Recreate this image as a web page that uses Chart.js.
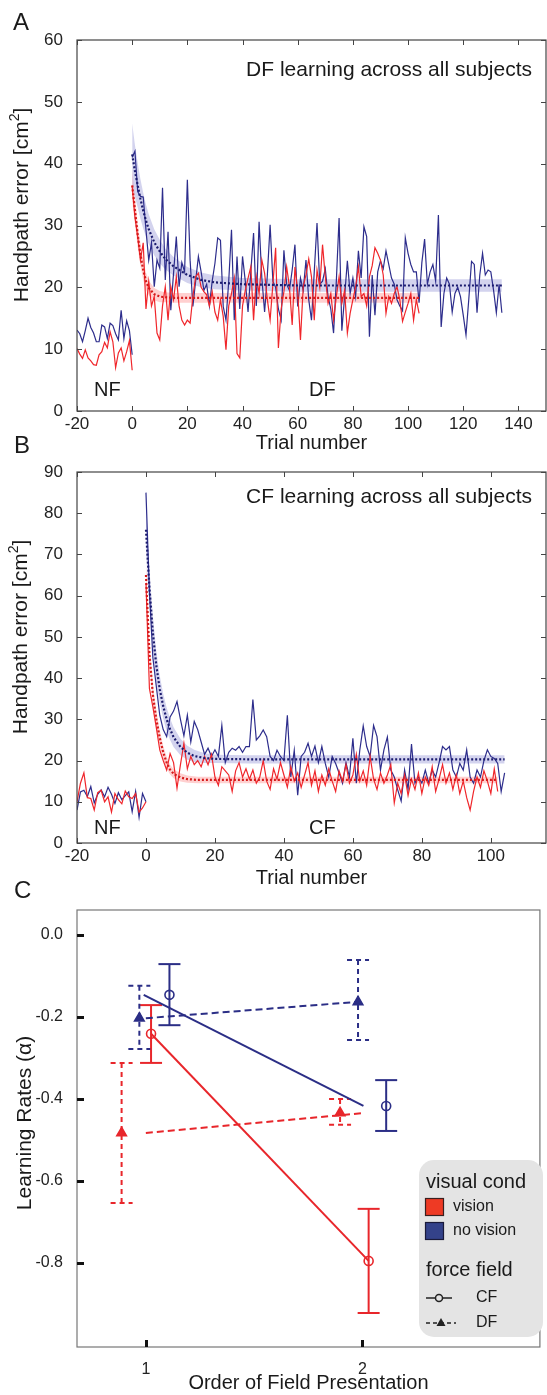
<!DOCTYPE html>
<html><head><meta charset="utf-8">
<script src="https://cdn.jsdelivr.net/npm/chart.js@4.4.1/dist/chart.umd.min.js"></script>
<style>
html,body{margin:0;padding:0;background:#fff;}
body{position:relative;width:547px;height:1395px;overflow:hidden;font-family:"Liberation Sans",Arial,sans-serif;color:#1a1a1a;}
canvas{position:absolute;left:0;}
.lbl{position:absolute;font-size:24px;line-height:24px;}
</style></head><body>
<canvas id="cA" width="547" height="455" style="top:0px"></canvas>
<canvas id="cB" width="547" height="435" style="top:455px"></canvas>
<canvas id="cC" width="547" height="505" style="top:890px"></canvas>
<div class="lbl" style="left:13px;top:10px">A</div>
<div class="lbl" style="left:14px;top:433px">B</div>
<div class="lbl" style="left:14px;top:878px">C</div>
<script>
// ---------------- DATA ----------------
const ticksAx = [-20,0,20,40,60,80,100,120,140];
const ticksAy = [0,10,20,30,40,50,60];
const ticksBx = [-20,0,20,40,60,80,100];
const ticksBy = [0,10,20,30,40,50,60,70,80,90];
const ticksCx = [1,2];
const ticksCy = [0,-0.2,-0.4,-0.6,-0.8];

const nfTrials = [-20,-19,-18,-17,-16,-15,-14,-13,-12,-11,-10,-9,-8,-7,-6,-5,-4,-3,-2,-1,0];

// Panel A (DF)
const blueNF_A = [13.1,12.5,11.2,13.0,15.0,13.5,12.6,11.2,11.2,13.9,13.6,11.7,14.2,13.8,12.5,11.5,16.3,11.7,14.6,13.0,9.1];
const redNF_A  = [10.1,9.2,8.5,9.9,8.6,8.1,7.5,7.4,9.1,9.6,11.1,10.2,12.8,11.2,7.0,9.4,10.2,8.1,9.6,11.4,6.6];
const blueDF_A = [41,42,35.5,34.7,34.6,29.3,24.4,27.2,20.1,24.4,
 23.1,36.1,21.2,29,16.3,22.3,28.2,20.1,24,22.5,
 37.4,24.4,16.9,21,25,22.5,19.5,20.5,17,21,
 23.9,28,27.6,16.9,14.7,21,29.3,14.7,25,16.5,
 25,21,16,22.5,28.8,17,30.6,21.5,16,22,
 30.1,21,20,16.5,14.7,26,20.5,19.5,22.8,26.9,
 16.9,21.5,19.5,24.4,18,14.7,22.5,30.4,20.5,21,
 23,18.5,16.5,12.6,21,31.2,13,18.5,24.3,19,
 21.5,18.5,25.9,21.5,29.8,28.2,12,22,15.5,22.5,
 24.3,23,25.9,23.7,21.5,20.5,18,17,16.2,28,
 25.5,23.7,22.5,22.5,17.5,24,27.8,20.5,22.5,23.7,
 21,31.7,13.6,19,21.5,20.5,16,19,20,18.5,
 15.5,12.3,18,24.2,23.7,15.9,22,25.5,22,22.8,
 22.5,19.5,15.9,20.5,15.9];
const redDF_A = [36.3,31.4,28.2,24.4,27.2,16.5,21,17,18.5,12.6,
 11.5,17,20.1,14.7,20.1,18,21.7,17,14.7,13.9,
 14.7,14.2,18.5,21.7,22.3,20,19.3,18.8,17,19.3,
 16,14.7,18,15.3,9.9,17,19,21.5,9.3,8.6,
 17,19.5,21.5,23.3,14.7,21.7,19,24.4,22.3,18,
 14.7,20.5,26.4,10.2,16.5,19.3,23.3,20.1,13.9,23.3,
 19.3,11.5,20.1,22,24.6,21.7,14.7,22.8,20,26.9,
 21.7,17.4,19,14.7,18.5,21.7,17.4,19.5,12.6,15.8,
 18,20.1,23.3,18.5,19,17,21.7,23.5,26.4,25.5,
 24.4,22,15.8,18.5,17.4,19,20.1,18,14.5,16,
 17.4,19,14.7,18,15.8];
const fitXA_blue = [0,1,2,3,4,5,6,8,10,12,15,20,25,30,40,60,90,134];
const fitA_blue  = [41.5,38.8,36.5,34.3,32.4,30.8,29.4,27.3,25.8,24.6,23.4,22,21.2,20.8,20.5,20.3,20.3,20.3];
const bandA_blue = [5,4.2,3.6,3.2,2.9,2.6,2.4,2.1,1.9,1.7,1.5,1.3,1.2,1.1,1,1,1,1];
const fitXA_red  = [0,1,2,3,4,5,6,8,10,12,15,20,40,70,104];
const fitA_red   = [36.5,32.5,28.5,25.3,22.8,21,19.9,18.9,18.5,18.4,18.3,18.3,18.3,18.3,18.3];
const bandA_red  = [2.5,2.2,2,1.8,1.6,1.4,1.2,1,0.9,0.8,0.8,0.8,0.8,0.8,0.8];

// Panel B (CF)
const blueNF_B = [8,12.4,12.8,11.3,13.7,9.7,11.8,12.9,11.2,13.5,11.8,9.6,12.2,10.5,11.5,12.4,7.6,12.5,6.2,12,10];
const redNF_B  = [10,14.5,17,11,10.8,8,12.2,12.8,10,11.2,7.5,12,10.5,9.5,12.6,11.2,10.8,12,7.5,8.5,10];
const blueCF_B = [85,61,45,38,31,27.5,25.8,30.6,32,34.3,
 30,26,31,24.5,29.5,27.5,24.5,21.5,23,21,
 22.6,21,28.5,19.5,22,23,22.5,23.4,22,23.4,
 23.4,34.8,25,26,27.4,25.8,21,20,22.5,21,
 20,31,16,22.5,11.6,21,22,24.2,21,23.5,
 19.5,23.4,19.3,16,21,19.3,17,14.5,19.5,16,
 25.4,14.5,22.5,28.4,23.4,21,28.5,25.8,17.7,22.6,
 25.7,17.7,16,12.9,10.2,17.7,13,24,14.5,16,
 14.5,17.7,14.5,17.7,16,19.5,23.4,22.6,23.4,17.7,
 16,19.3,17.7,22.6,16,14.5,17.7,16,20,22.6,
 21,20.5,19.3,12.5,17];
const redCF_B = [63,37.5,33,28,22.6,20,17.7,21.7,19.5,13.3,
 19,24.2,18,21,19,20,18.5,21,19,21.5,
 16,14,18.5,17.5,16.5,12.5,17.5,19.5,16,18,
 15.5,17.7,14.5,16,20,15,13,18,15.5,19.5,
 16.5,13.5,18.5,15,17,13.5,16.5,19.5,14,17.5,
 12.5,16.5,14,18,15,12.5,17.5,15,19,14.5,
 16.5,21.5,15,17.5,14,21,15.5,13,17,14.5,
 16.5,19,9.7,14.5,12,16.5,11.5,15.5,13,17,
 12,16,14,18.5,12.5,15.5,19,14.5,17,13,
 16.5,12,15,11,8,12.5,16,13.5,17.5,15,
 12,18,12.5];
const fitXB_blue = [0,1,2,3,4,5,6,7,8,10,12,14,17,20,30,60,104];
const fitB_blue  = [76,62,51,43,37.3,33.2,30,27.6,25.7,23.3,21.9,21.1,20.6,20.4,20.3,20.3,20.3];
const bandB_blue = [5,4.5,4,3.6,3.3,3,2.8,2.6,2.4,2,1.7,1.5,1.2,1,1,1,1];
const fitXB_red  = [0,1,2,3,4,5,6,7,8,10,12,15,20,40,70,102];
const fitB_red   = [65,46,36,30,25.5,22,19.5,17.8,16.8,15.9,15.5,15.3,15.3,15.3,15.3,15.3];
const bandB_red  = [3,2.5,2.2,2,1.8,1.6,1.4,1.2,1.1,1,0.9,0.8,0.8,0.8,0.8,0.8];

// Panel C (learning rates)
const visionCF   = [-0.241,-0.795];
const visionCFlo = [-0.312,-0.922];
const visionCFhi = [-0.171,-0.668];
const visionCFx  = [1.024,2.029];
const visionCFlineX = [1.024,2.029];
const noVisionCF   = [-0.146,-0.417];
const noVisionCFlo = [-0.220,-0.478];
const noVisionCFhi = [-0.071,-0.354];
const noVisionCFx  = [1.109,2.110];
const noVisionCFlineX = [0.99,2.005];
const visionDF   = [-0.483,-0.434];
const visionDFlo = [-0.654,-0.463];
const visionDFhi = [-0.312,-0.400];
const visionDFx  = [0.888,1.897];
const visionDFlineX = [1.0,2.01];
const noVisionDF   = [-0.203,-0.163];
const noVisionDFlo = [-0.278,-0.256];
const noVisionDFhi = [-0.124,-0.061];
const noVisionDFx  = [0.970,1.980];
const noVisionDFlineX = [1.0,1.98];

// ---------------- HELPERS ----------------
const FONT = '"Liberation Sans", Arial, sans-serif';
Chart.defaults.font.family = FONT;
Chart.defaults.color = '#222';
const BLUE = '#2d2d8c', RED = '#f0262b';
const BLUEFIT = '#1b1b6e', REDFIT = '#d41a1a';
const CRED = '#e8262b', CBLUE = '#2b2e86';

const trialIdx = n => Array.from({length: n}, (_, i) => i);
const pts = (xs, ys) => ys.map((y, i) => ({x: xs[i], y}));
const lineDs = (data, color, width, dash, order) => ({data, borderColor: color, borderWidth: width, borderDash: dash || [], pointRadius: 0, fill: false, tension: 0, order});
const bandDs = (xs, mid, half, color) => [
  {data: pts(xs, mid.map((m, i) => m + half[i])), borderWidth: 0, pointRadius: 0, fill: '+1', backgroundColor: color, order: 20},
  {data: pts(xs, mid.map((m, i) => m - half[i])), borderWidth: 0, pointRadius: 0, fill: false, order: 20}
];

function drawRotated(ctx, cx, cy, parts, color) {
  ctx.save(); ctx.translate(cx, cy); ctx.rotate(-Math.PI / 2);
  ctx.textBaseline = 'middle'; ctx.textAlign = 'left'; ctx.fillStyle = color;
  let total = 0;
  parts.forEach(p => { ctx.font = p.font; p.w = ctx.measureText(p.t).width; total += p.w; });
  let x = -total / 2;
  parts.forEach(p => { ctx.font = p.font; ctx.fillText(p.t, x, p.dy || 0); x += p.w; });
  ctx.restore();
}

function framePlugin(cfg) {
  return {
    id: 'frame',
    afterDraw(chart) {
      const {ctx, chartArea: a, scales: {x, y}} = chart;
      ctx.save();
      ctx.setLineDash([]);
      ctx.strokeStyle = cfg.frameColor; ctx.lineWidth = cfg.frameWidth;
      ctx.strokeRect(a.left, a.top, a.right - a.left, a.bottom - a.top);
      ctx.strokeStyle = cfg.tickColor; ctx.lineWidth = cfg.tickWidth;
      ctx.beginPath();
      x.ticks.forEach(t => {
        const p = Math.round(x.getPixelForValue(t.value)) + 0.5;
        ctx.moveTo(p, a.bottom); ctx.lineTo(p, a.bottom - cfg.len);
        if (cfg.all) { ctx.moveTo(p, a.top); ctx.lineTo(p, a.top + cfg.len); }
      });
      y.ticks.forEach(t => {
        const p = Math.round(y.getPixelForValue(t.value)) + 0.5;
        ctx.moveTo(a.left, p); ctx.lineTo(a.left + cfg.len, p);
        if (cfg.all) { ctx.moveTo(a.right, p); ctx.lineTo(a.right - cfg.len, p); }
      });
      ctx.stroke(); ctx.restore();
    }
  };
}

function textPlugin(items, ytitle) {
  return {
    id: 'texts',
    afterDraw(chart) {
      const ctx = chart.ctx;
      ctx.save();
      items.forEach(it => {
        ctx.font = it.font; ctx.fillStyle = '#1a1a1a';
        ctx.textAlign = it.align || 'left'; ctx.textBaseline = 'middle';
        ctx.fillText(it.text, it.x, it.y);
      });
      if (ytitle) drawRotated(ctx, ytitle.x, ytitle.y, ytitle.parts, '#1a1a1a');
      ctx.restore();
    }
  };
}

const yTitleParts = () => [
  {t: 'Handpath error [cm', font: '21px ' + FONT},
  {t: '2', font: '14px ' + FONT, dy: -7},
  {t: ']', font: '21px ' + FONT}
];

function trialChart(id, o) {
  return new Chart(document.getElementById(id), {
    type: 'line',
    data: {datasets: o.datasets},
    options: {
      responsive: false, animation: false, devicePixelRatio: 1,
      layout: {padding: {top: o.padTop, right: 1, left: 0, bottom: 0}},
      plugins: {legend: {display: false}, tooltip: {enabled: false}},
      scales: {
        x: {
          type: 'linear', min: o.xmin, max: o.xmax,
          afterBuildTicks: s => { s.ticks = o.xt.map(v => ({value: v})); },
          afterFit: s => { s.height = o.xh; },
          grid: {display: false}, border: {display: false},
          ticks: {padding: -5, font: {size: 17}, color: '#222', maxRotation: 0, autoSkip: false},
          title: {display: true, text: 'Trial number', font: {size: 20}, color: '#1a1a1a', padding: 0}
        },
        y: {
          type: 'linear', min: o.ymin, max: o.ymax,
          afterBuildTicks: s => { s.ticks = o.yt.map(v => ({value: v})); },
          afterFit: s => { s.width = 77; },
          grid: {display: false}, border: {display: false},
          ticks: {padding: 6, font: {size: 17}, color: '#222', autoSkip: false}
        }
      }
    },
    plugins: [
      framePlugin({frameColor: '#444', frameWidth: 1.2, tickColor: '#444', tickWidth: 1, len: 5, all: true}),
      textPlugin(o.texts, {x: o.ytx, y: o.yty, parts: yTitleParts()})
    ]
  });
}

// ---------------- PANEL A ----------------
trialChart('cA', {
  xmin: -20, xmax: 150, ymin: 0, ymax: 60, xt: ticksAx, yt: ticksAy,
  padTop: 40, xh: 44, ytx: 22, yty: 205,
  texts: [
    {text: 'DF learning across all subjects', x: 532, y: 70, font: '21px ' + FONT, align: 'right'},
    {text: 'NF', x: 94, y: 390, font: '20px ' + FONT},
    {text: 'DF', x: 309, y: 390, font: '20px ' + FONT}
  ],
  datasets: [
    lineDs(pts(fitXA_red, fitA_red), REDFIT, 2.2, [2, 2], 1),
    lineDs(pts(fitXA_blue, fitA_blue), BLUEFIT, 2.2, [2, 2], 1),
    lineDs(pts(nfTrials, redNF_A), RED, 1.2, [], 4),
    lineDs(pts(trialIdx(redDF_A.length), redDF_A), RED, 1.2, [], 4),
    lineDs(pts(nfTrials, blueNF_A), BLUE, 1.2, [], 5),
    lineDs(pts(trialIdx(blueDF_A.length), blueDF_A), BLUE, 1.2, [], 5),
    ...bandDs(fitXA_blue, fitA_blue, bandA_blue, 'rgba(130,130,205,0.35)'),
    ...bandDs(fitXA_red, fitA_red, bandA_red, 'rgba(255,120,120,0.35)')
  ]
});

// ---------------- PANEL B ----------------
trialChart('cB', {
  xmin: -20, xmax: 116, ymin: 0, ymax: 90, xt: ticksBx, yt: ticksBy,
  padTop: 17, xh: 47, ytx: 21, yty: 182,
  texts: [
    {text: 'CF learning across all subjects', x: 532, y: 42, font: '21px ' + FONT, align: 'right'},
    {text: 'NF', x: 94, y: 373, font: '20px ' + FONT},
    {text: 'CF', x: 309, y: 373, font: '20px ' + FONT}
  ],
  datasets: [
    lineDs(pts(fitXB_red, fitB_red), REDFIT, 2.2, [2, 2], 1),
    lineDs(pts(fitXB_blue, fitB_blue), BLUEFIT, 2.2, [2, 2], 1),
    lineDs(pts(nfTrials, redNF_B), RED, 1.2, [], 4),
    lineDs(pts(trialIdx(redCF_B.length), redCF_B), RED, 1.2, [], 4),
    lineDs(pts(nfTrials, blueNF_B), BLUE, 1.2, [], 5),
    lineDs(pts(trialIdx(blueCF_B.length), blueCF_B), BLUE, 1.2, [], 5),
    ...bandDs(fitXB_blue, fitB_blue, bandB_blue, 'rgba(130,130,205,0.35)'),
    ...bandDs(fitXB_red, fitB_red, bandB_red, 'rgba(255,120,120,0.35)')
  ]
});

// ---------------- PANEL C ----------------
const errSets = [
  {xs: visionCFx, lo: visionCFlo, hi: visionCFhi, color: CRED, dash: []},
  {xs: noVisionCFx, lo: noVisionCFlo, hi: noVisionCFhi, color: CBLUE, dash: []},
  {xs: visionDFx, lo: visionDFlo, hi: visionDFhi, color: CRED, dash: [5, 4]},
  {xs: noVisionDFx, lo: noVisionDFlo, hi: noVisionDFhi, color: CBLUE, dash: [5, 4]}
];
const errorBarPlugin = {
  id: 'errbars',
  beforeDatasetsDraw(chart) {
    const {ctx, scales: {x, y}} = chart;
    errSets.forEach(s => {
      ctx.save(); ctx.strokeStyle = s.color; ctx.lineWidth = 2; ctx.setLineDash(s.dash);
      s.xs.forEach((xv, i) => {
        const px = x.getPixelForValue(xv), lo = y.getPixelForValue(s.lo[i]), hi = y.getPixelForValue(s.hi[i]);
        const seg = (x1, y1, x2, y2) => { ctx.beginPath(); ctx.moveTo(x1, y1); ctx.lineTo(x2, y2); ctx.stroke(); };
        seg(px, hi, px, lo);
        seg(px - 11, lo, px + 11, lo);
        seg(px - 11, hi, px + 11, hi);
      });
      ctx.restore();
    });
  }
};
const legendPlugin = {
  id: 'legendC',
  afterDraw(chart) {
    const ctx = chart.ctx;
    ctx.save();
    ctx.fillStyle = '#e4e4e4';
    ctx.beginPath(); ctx.roundRect(419, 270, 124, 177, 15); ctx.fill();
    ctx.fillStyle = '#1a1a1a'; ctx.textBaseline = 'middle'; ctx.textAlign = 'left';
    ctx.font = '20px ' + FONT; ctx.fillText('visual cond', 426, 292);
    ctx.fillText('force field', 426, 380);
    ctx.font = '16px ' + FONT;
    ctx.fillText('vision', 453, 317); ctx.fillText('no vision', 453, 341);
    ctx.fillText('CF', 476, 408); ctx.fillText('DF', 476, 433);
    ctx.lineWidth = 1.2;
    ctx.fillStyle = '#ee3a24'; ctx.strokeStyle = '#3a1f1f';
    ctx.fillRect(425, 308, 19, 18); ctx.strokeRect(425.5, 308.5, 18, 17);
    ctx.fillStyle = '#34428a'; ctx.strokeStyle = '#1a1a3a';
    ctx.fillRect(425, 332, 19, 18); ctx.strokeRect(425.5, 332.5, 18, 17);
    ctx.strokeStyle = '#222'; ctx.lineWidth = 1.5;
    ctx.beginPath(); ctx.moveTo(426, 408); ctx.lineTo(452, 408); ctx.stroke();
    ctx.beginPath(); ctx.arc(439, 408, 3.5, 0, Math.PI * 2); ctx.fillStyle = '#e4e4e4'; ctx.fill(); ctx.stroke();
    ctx.setLineDash([4, 3]);
    ctx.beginPath(); ctx.moveTo(426, 433); ctx.lineTo(456, 433); ctx.stroke();
    ctx.setLineDash([]);
    ctx.fillStyle = '#222';
    ctx.beginPath(); ctx.moveTo(441, 428); ctx.lineTo(445.5, 436); ctx.lineTo(436.5, 436); ctx.closePath(); ctx.fill();
    drawRotated(ctx, 25, 233, [{t: 'Learning Rates (\u03b1)', font: '21px ' + FONT}], '#1a1a1a');
    ctx.restore();
  }
};

const markerDs = (xs, ys, style, color, filled) => ({
  data: pts(xs, ys), showLine: false, pointStyle: style, pointRadius: style === 'triangle' ? 5.5 : 4.5,
  pointBorderWidth: 1.6, borderColor: color, backgroundColor: filled ? color : 'rgba(0,0,0,0)', order: 1
});
const meanLineDs = (xs, ys, color, dash) => ({
  data: pts(xs, ys), showLine: true, borderColor: color, borderWidth: 2, borderDash: dash, pointRadius: 0, order: 3
});

new Chart(document.getElementById('cC'), {
  type: 'scatter',
  data: {datasets: [
    markerDs(visionCFx, visionCF, 'circle', CRED, false),
    markerDs(noVisionCFx, noVisionCF, 'circle', CBLUE, false),
    markerDs(visionDFx, visionDF, 'triangle', CRED, true),
    markerDs(noVisionDFx, noVisionDF, 'triangle', CBLUE, true),
    meanLineDs(visionCFlineX, visionCF, CRED, []),
    meanLineDs(noVisionCFlineX, noVisionCF, CBLUE, []),
    meanLineDs(visionDFlineX, visionDF, CRED, [7, 4]),
    meanLineDs(noVisionDFlineX, noVisionDF, CBLUE, [7, 4])
  ]},
  options: {
    responsive: false, animation: false, devicePixelRatio: 1,
    layout: {padding: {top: 20, right: 1, left: 0, bottom: 0}},
    plugins: {legend: {display: false}, tooltip: {enabled: false}},
    scales: {
      x: {
        type: 'linear', min: 0.682, max: 2.82,
        afterBuildTicks: s => { s.ticks = ticksCx.map(v => ({value: v})); },
        afterFit: s => { s.height = 48; },
        grid: {display: false}, border: {display: false},
        ticks: {padding: 5, font: {size: 16}, color: '#222', autoSkip: false, maxRotation: 0},
        title: {display: true, text: 'Order of Field Presentation', font: {size: 20}, color: '#1a1a1a', padding: 0}
      },
      y: {
        type: 'linear', min: -1.005, max: 0.061,
        afterBuildTicks: s => { s.ticks = ticksCy.map(v => ({value: v})); },
        afterFit: s => { s.width = 77; },
        grid: {display: false}, border: {display: false},
        ticks: {padding: 6, font: {size: 16}, color: '#222', autoSkip: false, callback: v => Number(v).toFixed(1)}
      }
    }
  },
  plugins: [
    errorBarPlugin,
    framePlugin({frameColor: '#777', frameWidth: 1.2, tickColor: '#111', tickWidth: 3, len: 7, all: false}),
    legendPlugin
  ]
});
</script></body></html>
